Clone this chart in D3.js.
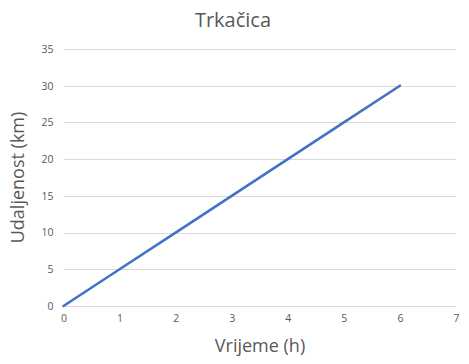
<!DOCTYPE html>
<html><head><meta charset="utf-8">
<script src="https://cdn.jsdelivr.net/npm/d3@7"></script>
<style>body{margin:0;background:#fff}svg{display:block}</style>
</head><body><svg id="c" width="469" height="364"></svg>
<script>
const xValues = [0, 1, 2, 3, 4, 5, 6];
const yValues = [0, 5, 10, 15, 20, 25, 30];
const xTicks = [0, 1, 2, 3, 4, 5, 6, 7];
const yTicks = [0, 5, 10, 15, 20, 25, 30, 35];
const title = "Trkačica";
const xTitle = "Vrijeme (h)";
const yTitle = "Udaljenost (km)";

const svg = d3.select("#c");
const font = "'Open Sans', 'Noto Sans', sans-serif";
const x = d3.scaleLinear().domain([0, 7]).range([63.5, 456]);
const y = d3.scaleLinear().domain([0, 35]).range([306, 49]);

svg.append("g").selectAll("line").data(yTicks).join("line")
  .attr("x1", x(0)).attr("x2", x(7))
  .attr("y1", d => Math.round(y(d)) + 0.5).attr("y2", d => Math.round(y(d)) + 0.5)
  .attr("stroke", "#d9d9d9").attr("stroke-width", 1);

const ya = svg.append("g").attr("transform", `translate(${x(0)},0)`)
  .call(d3.axisLeft(y).tickValues(yTicks).tickFormat(d3.format("d")).tickSize(0).tickPadding(10));
ya.select(".domain").remove();
ya.selectAll("text").attr("fill", "#595959").style("font-family", font).style("font-size", "10.5px");

const xa = svg.append("g").attr("transform", `translate(0,${y(0)})`)
  .call(d3.axisBottom(x).tickValues(xTicks).tickFormat(d3.format("d")).tickSize(0).tickPadding(9));
xa.select(".domain").remove();
xa.selectAll("text").attr("fill", "#595959").style("font-family", font).style("font-size", "10.5px");

const pts = xValues.map((v, i) => [v, yValues[i]]);
svg.append("path").datum(pts)
  .attr("d", d3.line().x(d => x(d[0])).y(d => y(d[1])))
  .attr("fill", "none").attr("stroke", "#4472C4").attr("stroke-width", 2.6)
  .attr("stroke-linecap", "round");

svg.append("text").attr("x", 233).attr("y", 27).attr("text-anchor", "middle")
  .attr("fill", "#595959").style("font-family", font).style("font-size", "20px").text(title);
svg.append("text").attr("x", 260).attr("y", 352).attr("text-anchor", "middle")
  .attr("fill", "#595959").style("font-family", font).style("font-size", "18px").text(xTitle);
svg.append("text").attr("transform", `translate(24,${(49+306)/2}) rotate(-90)`).attr("text-anchor", "middle")
  .attr("fill", "#595959").style("font-family", font).style("font-size", "18px").text(yTitle);
</script></body></html>
